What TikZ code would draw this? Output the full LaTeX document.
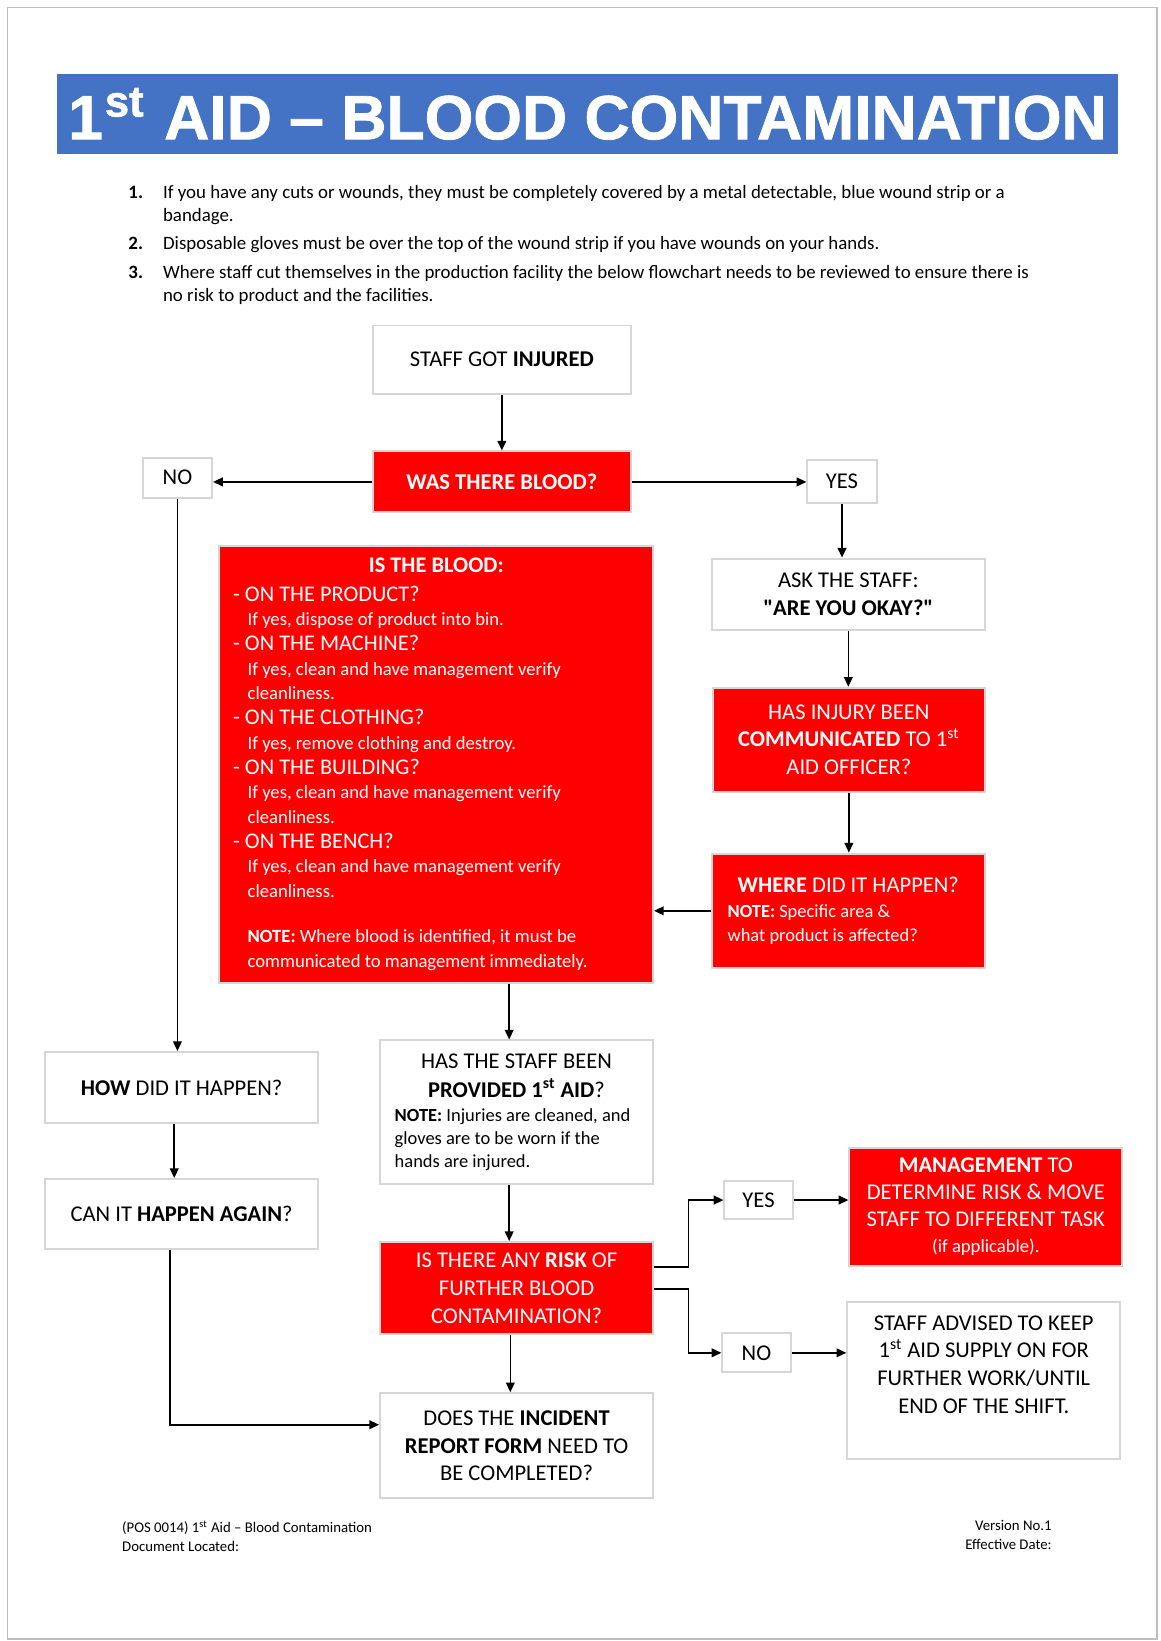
\documentclass[tikz,border=0pt]{standalone}
\usepackage{graphicx}
\usepackage{fontspec}
\setmainfont{Carlito}
\newfontfamily\plainfont{Carlito}
\newfontface\titlefont{Liberation Sans Bold}[FakeBold=1.2]
\usetikzlibrary{arrows.meta}
\definecolor{titleblue}{HTML}{4472C4}
\definecolor{boxred}{HTML}{FF0000}
\definecolor{boxline}{HTML}{D6D6D6}
\definecolor{pageline}{HTML}{BFBFBF}
\setlength{\parindent}{0pt}
\newcommand{\smalltxt}{\fontsize{9.6}{12.7}\selectfont}
\begin{document}
\begin{tikzpicture}[x=0.54pt,y=-0.54pt,
  sz/.style 2 args={minimum width=#1*0.54pt, minimum height=#2*0.54pt},
  basebox/.style={draw=boxline, line width=1pt, inner sep=0pt, align=center, font=\fontsize{11.6}{14.3}\selectfont},
  wbox/.style={basebox, fill=white, text=black},
  rbox/.style={basebox, fill=boxred, text=white},
  arr/.style={line width=0.8pt, -{Triangle[length=5pt,width=4.5pt]}},
]
\useasboundingbox (0,0) rectangle (1105,1563);
\fill[white] (0,0) rectangle (1105,1563);
\draw[pageline, line width=0.8pt] (7,7) rectangle (1102,1561);

% title
\node[fill=titleblue, sz={1011}{77}, inner sep=0pt, text=white] (title) at (559.5,108.5)
  {\resizebox{534pt}{!}{\titlefont 1\kern0.03em\textsuperscript{st} AID – BLOOD CONTAMINATION}};

% list
\node[anchor=north west, inner sep=0pt, align=left, font=\fontsize{9.7}{11.9}\selectfont] (list) at (122,176) {%
\makebox[17.8pt][l]{\textbf{1.}}If you have any cuts or wounds, they must be completely covered by a metal detectable, blue wound strip or a\\
\hspace*{17.8pt}bandage.\\[2.7pt]
\makebox[17.8pt][l]{\textbf{2.}}Disposable gloves must be over the top of the wound strip if you have wounds on your hands.\\[2.7pt]
\makebox[17.8pt][l]{\textbf{3.}}Where staff cut themselves in the production facility the below flowchart needs to be reviewed to ensure there is\\
\hspace*{17.8pt}no risk to product and the facilities.};

% boxes
\node[wbox, sz={246}{65}] (injured) at (478,342.5) {STAFF GOT \textbf{INJURED}};
\node[rbox, sz={246}{58}] (blood) at (478,459) {\textbf{WAS THERE BLOOD?}};
\node[wbox, sz={66}{38}] (no1) at (169,455) {NO};
\node[wbox, sz={66}{41}] (yes1) at (802,458.5) {YES};

\node[rbox, sz={413}{416}, text width=209pt, align=flush left, font=\fontsize{11.5}{12.7}\selectfont] (isblood) at (415.5,728) {%
\makebox[209pt]{\textbf{IS THE BLOOD:}}\\[1.9pt]
- ON THE PRODUCT?\\
\hspace*{7.5pt}{\smalltxt If yes, dispose of product into bin.}\\
- ON THE MACHINE?\\
\hspace*{7.5pt}{\smalltxt If yes, clean and have management verify}\\
\hspace*{7.5pt}{\smalltxt cleanliness.}\\
- ON THE CLOTHING?\\
\hspace*{7.5pt}{\smalltxt If yes, remove clothing and destroy.}\\
- ON THE BUILDING?\\
\hspace*{7.5pt}{\smalltxt If yes, clean and have management verify}\\
\hspace*{7.5pt}{\smalltxt cleanliness.}\\
- ON THE BENCH?\\
\hspace*{7.5pt}{\smalltxt If yes, clean and have management verify}\\
\hspace*{7.5pt}{\smalltxt cleanliness.}\\[10.5pt]
\hspace*{7.5pt}{\smalltxt \textbf{NOTE:} Where blood is identified, it must be}\\
\hspace*{7.5pt}{\smalltxt communicated to management immediately.}};

\node[wbox, sz={260}{68}] (ask) at (808,566) {ASK THE STAFF:\\{\plainfont\bfseries "ARE YOU OKAY?"}};
\node[rbox, sz={259}{99}] (comm) at (808.5,704.5) {HAS INJURY BEEN\\\textbf{COMMUNICATED} TO 1\textsuperscript{st}\\AID OFFICER?};
\node[rbox, sz={260}{109}, text width=124.2pt, align=flush left, font=\fontsize{9.5}{12}\selectfont] (where) at (808,867.5) {%
\makebox[124.2pt]{\fontsize{11.6}{12}\selectfont\textbf{WHERE} DID IT HAPPEN?}\\[1pt]
\textbf{NOTE:} Specific area \&\\
what product is affected?};

\node[wbox, sz={260}{68}] (how) at (173,1036) {\textbf{HOW} DID IT HAPPEN?};
\node[wbox, sz={260}{67}] (again) at (173,1156.5) {CAN IT \textbf{HAPPEN AGAIN}?};

\node[wbox, sz={260}{137}, text width=125.3pt, align=flush left, font=\fontsize{9.5}{11.9}\selectfont] (provided) at (492,1059.5) {%
\makebox[125.3pt]{\fontsize{11.6}{11.9}\selectfont HAS THE STAFF BEEN}\\[2.7pt]
\makebox[125.3pt]{\fontsize{11.6}{11.9}\selectfont\textbf{PROVIDED 1\textsuperscript{st} AID}?}\\[0.5pt]
\textbf{NOTE:} Injuries are cleaned, and\\
gloves are to be worn if the\\
hands are injured.};

\node[rbox, sz={260}{88}] (risk) at (492,1227) {IS THERE ANY \textbf{RISK} OF\\FURTHER BLOOD\\CONTAMINATION?};
\node[wbox, sz={65}{36}] (yes2) at (722.5,1143) {YES};
\node[wbox, sz={65}{37}] (no2) at (720.5,1288.5) {NO};

\node[rbox, sz={260}{113}, font=\fontsize{11.6}{13.7}\selectfont] (mgmt) at (939,1149.5) {\textbf{MANAGEMENT} TO\\DETERMINE RISK \& MOVE\\STAFF TO DIFFERENT TASK\\{\fontsize{9.6}{13.7}\selectfont (if applicable).}};

\node[wbox, sz={260}{150}] (adv) at (937,1315) {\parbox[c][81pt][t]{140pt}{\centering\vspace*{7pt}STAFF ADVISED TO KEEP\\1\textsuperscript{st} AID SUPPLY ON FOR\\FURTHER WORK/UNTIL\\END OF THE SHIFT.}};

\node[wbox, sz={260}{100}] (report) at (492,1377) {DOES THE \textbf{INCIDENT}\\\textbf{REPORT FORM} NEED TO\\BE COMPLETED?};

% connectors
\draw[arr] (injured) -- (blood);
\draw[arr] (blood.west) -- (blood.west -| no1.east);
\draw[arr] (blood.east) -- (blood.east -| yes1.west);
\draw[arr] (yes1.south) -- (yes1.south |- ask.north);
\draw[arr] (ask.south) -- (ask.south |- comm.north);
\draw[arr] (comm.south) -- (comm.south |- where.north);
\draw[arr] (where.west) -- (where.west -| isblood.east);
\draw[arr] (no1.south) -- (no1.south |- how.north);
\draw[arr] ([xshift=-3.8pt]how.south) -- ([xshift=-3.8pt]how.south |- again.north);
\draw[arr] ([xshift=-3.8pt]provided.north |- isblood.south) -- ([xshift=-3.8pt]provided.north);
\draw[arr] ([xshift=-3.8pt]provided.south) -- ([xshift=-3.8pt]risk.north);
\draw[arr] ([xshift=-3.2pt]risk.south) -- ([xshift=-3.2pt]report.north);
\draw[arr] ([yshift=10.8pt]risk.east) -- ++(33,0) |- (yes2.west);
\draw[arr] ([yshift=-0.5pt]risk.east) -- ++(33,0) |- (no2.west);
\draw[arr] (yes2.east) -- (yes2.east -| mgmt.west);
\draw[arr] (no2.east) -- (no2.east -| adv.west);
\draw[arr] ([xshift=-5.9pt]again.south) |- ([yshift=10.8pt]report.west);

% footer
\node[anchor=north west, inner sep=0pt, align=left, font=\fontsize{7.6}{9.7}\selectfont] (foot1) at (116,1448) {(POS 0014) 1\textsuperscript{st} Aid – Blood Contamination\\Document Located:};
\node[anchor=north east, inner sep=0pt, align=right, font=\fontsize{7.6}{9.7}\selectfont] (foot2) at (1002,1448) {Version No.1\\Effective Date:};
\end{tikzpicture}
\end{document}
